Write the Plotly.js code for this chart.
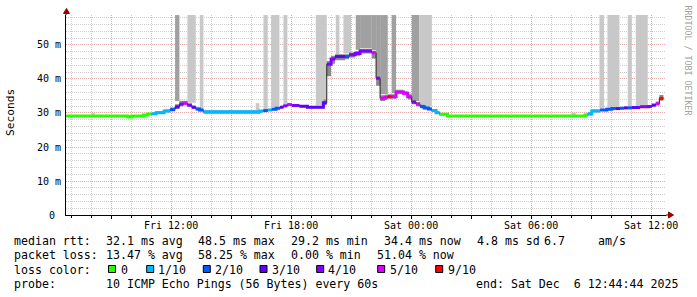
<!DOCTYPE html>
<html><head><meta charset="utf-8">
<script src="https://cdn.plot.ly/plotly-3.0.1.min.js"></script>
<style>html,body{margin:0;padding:0;background:#fff;}#chart{width:697px;height:297px;}</style>
</head><body><div id="chart"></div>
<script>
// ---- data ----
const stepTimes = ['2025-12-05 06:45','2025-12-05 09:50','2025-12-05 10:02','2025-12-05 10:37','2025-12-05 10:50','2025-12-05 11:02','2025-12-05 11:15','2025-12-05 11:39','2025-12-05 11:57','2025-12-05 12:12','2025-12-05 12:25','2025-12-05 12:37','2025-12-05 12:49','2025-12-05 13:02','2025-12-05 13:14','2025-12-05 13:25','2025-12-05 13:37',
'2025-12-05 16:27','2025-12-05 16:37','2025-12-05 16:50','2025-12-05 17:02','2025-12-05 17:15','2025-12-05 17:27','2025-12-05 17:37','2025-12-05 17:49','2025-12-05 18:02','2025-12-05 18:25','2025-12-05 18:49','2025-12-05 19:37','2025-12-05 19:47','2025-12-05 20:00','2025-12-05 20:12','2025-12-05 20:42','2025-12-05 20:54','2025-12-05 21:12','2025-12-05 21:27','2025-12-05 22:02','2025-12-05 22:15','2025-12-05 22:27','2025-12-05 22:42','2025-12-05 22:50','2025-12-05 23:02','2025-12-05 23:15','2025-12-05 23:37','2025-12-05 23:50',
'2025-12-06 00:02','2025-12-06 00:15','2025-12-06 00:27','2025-12-06 00:39','2025-12-06 00:52','2025-12-06 01:02','2025-12-06 01:15','2025-12-06 01:25','2025-12-06 01:49',
'2025-12-06 08:42','2025-12-06 08:50','2025-12-06 09:02','2025-12-06 09:27','2025-12-06 09:47','2025-12-06 10:02','2025-12-06 10:14','2025-12-06 10:27','2025-12-06 10:39','2025-12-06 10:50','2025-12-06 11:02','2025-12-06 11:27','2025-12-06 11:52','2025-12-06 12:02','2025-12-06 12:14','2025-12-06 12:25'];
const endTime = '2025-12-06 12:37';
const medianMs = [29.1,28.8,29.1,29.4,29.7,29.8,30.1,30.6,31.0,31.8,32.6,32.9,32.3,31.7,31.2,30.9,30.4,
30.6,30.7,30.9,31.1,31.4,31.7,32.1,32.5,32.2,32.0,31.7,33.0,44.3,45.9,46.6,46.6,47.1,47.5,48.2,47.7,40.2,34.3,34.6,34.8,34.8,36.2,35.8,34.8,
33.2,32.6,31.9,31.5,31.2,30.7,30.1,29.6,29.1,
29.4,29.7,30.6,30.9,31.1,31.3,31.3,31.4,31.5,31.5,31.6,31.8,31.9,32.3,32.7,34.3];
const lossTenths = [0,0,0,0,0,1,1,1,2,3,4,5,4,3,2,2,1,
1,2,1,2,2,3,4,5,4,3,3,3,4,4,3,2,4,4,4,5,4,5,5,9,5,5,5,5,
4,5,2,2,2,1,1,0,0,
0,1,1,2,2,2,3,2,3,2,3,4,4,3,5,9];
const smokeLow = [28.9,28.7,28.9,29.1,29.4,29.5,29.7,30.2,30.5,31.2,32.0,32.3,31.8,31.2,30.8,30.5,29.8,
30.3,30.4,30.6,30.8,31.1,31.4,31.8,32.1,31.9,31.7,31.4,32.4,40.8,44.5,45.5,45.8,46.3,46.8,47.5,46.0,38.0,33.5,34.0,34.2,34.2,35.6,35.2,34.0,
32.6,32.0,31.4,31.1,30.8,30.3,29.8,29.3,28.9,
29.1,29.3,30.2,30.6,30.8,31.0,31.0,31.1,31.2,31.2,31.3,31.5,31.6,31.9,32.3,33.6];
const smokeHigh = [29.3,29.3,29.4,29.7,30.0,30.1,30.5,31.0,31.6,32.6,33.6,33.6,32.8,32.1,31.6,31.3,30.7,
30.9,31.0,31.2,31.4,31.7,32.0,32.4,32.9,32.6,32.3,32.0,34.0,45.3,46.8,47.3,47.3,47.8,48.2,48.8,48.3,41.0,35.2,35.4,35.5,35.5,36.8,36.4,35.5,
33.9,33.2,32.4,31.9,31.6,31.1,30.5,29.9,29.3,
29.8,30.2,31.0,31.2,31.4,31.6,31.6,31.7,31.8,31.8,31.9,32.1,32.3,32.7,33.4,35.3];
// lost-ping smoke columns
const barStart = ['2025-12-05 08:02','2025-12-05 12:12','2025-12-05 12:49','2025-12-05 13:26','2025-12-05 16:14','2025-12-05 16:37','2025-12-05 17:00','2025-12-05 17:37','2025-12-05 19:14','2025-12-05 20:14','2025-12-05 20:37','2025-12-05 21:14','2025-12-05 21:27','2025-12-05 22:02','2025-12-05 22:15','2025-12-05 22:27','2025-12-05 23:02','2025-12-06 00:02','2025-12-06 00:25','2025-12-06 08:02','2025-12-06 09:25','2025-12-06 09:49','2025-12-06 10:50','2025-12-06 11:14'];
const barEnd = ['2025-12-05 08:11','2025-12-05 12:25','2025-12-05 13:14','2025-12-05 13:37','2025-12-05 16:25','2025-12-05 16:50','2025-12-05 17:25','2025-12-05 17:49','2025-12-05 19:47','2025-12-05 20:25','2025-12-05 21:00','2025-12-05 21:27','2025-12-05 22:02','2025-12-05 22:15','2025-12-05 22:27','2025-12-05 22:50','2025-12-05 23:15','2025-12-06 00:25','2025-12-06 01:02','2025-12-06 08:14','2025-12-06 09:39','2025-12-06 10:25','2025-12-06 11:02','2025-12-06 11:50'];
const barLow = [29.2,33.5,33.0,31.4,30.8,31.0,31.6,32.6,32.2,47.2,47.5,48.6,49.0,48.5,41.0,35.5,35.8,33.5,32.0,29.2,31.3,31.5,31.7,32.0];
const barHigh = [30.0,58.8,58.8,58.8,32.9,58.8,58.8,58.8,58.8,58.8,58.8,58.8,58.8,58.8,58.8,58.8,58.8,58.8,58.8,30.1,58.8,58.8,58.8,58.8];
const barShade = ['L','D','L','L','L','L','L','L','L','L','L','D','D','D','D','D','D','D','L','L','L','L','L','L'];

const lossLevels = [0,1,2,3,4,5,9];
const lossLabels = ['0','1/10','2/10','3/10','4/10','5/10','9/10'];
const lossColors = ['#26ff00','#00b8ff','#0059ff','#5e00ff','#7e00ff','#dd00ff','#ff0000'];

const xTickVals = ['2025-12-05 09:00','2025-12-05 12:00','2025-12-05 15:00','2025-12-05 18:00','2025-12-05 21:00','2025-12-06 00:00','2025-12-06 03:00','2025-12-06 06:00','2025-12-06 09:00','2025-12-06 12:00'];
const xTickText = ['','Fri 12:00','','Fri 18:00','','Sat 00:00','','Sat 06:00','','Sat 12:00'];
const yTickVals = [0,10,20,30,40,50];
const yTickText = ['0\u00a0','10 m','20 m','30 m','40 m','50 m'];

const statsRtt = [['median rtt:',16],['32.1 ms avg',107.7],['48.5 ms max',200],['29.2 ms min',293.3],['34.4 ms now',385.7],['4.8 ms sd',479],['6.7',545.7],['am/s',600]];
const statsLoss = [['packet loss:',16],['13.47 % avg',107.7],['58.25 % max',200],['0.00 % min',292.7],['51.04 % now',379]];
const probeRow = [['probe:',16],['10 ICMP Echo Pings (56 Bytes) every 60s',107.7],['end: Sat Dec\u00a0\u00a06 12:44:44 2025',478.3]];
const lossSquareX = [108.5,146.7,203.3,260,316.7,377.7,435.7];
const lossLabelX = [120.7,158,215,271.7,328,390,448];

// ---- layout helpers (pixel -> paper) ----
const L = 66, PW = 600, T = 15, PH = 200;
const fx = p => (p - L) / PW;
const fy = p => (T + PH - p) / PH;
const toMs = s => Date.parse(s.replace(' ', 'T') + ':00Z');
const colorOf = l => lossColors[lossLevels.indexOf(l)];

const traces = [];
traces.push({type:'bar', x: barStart, base: barLow, y: barHigh.map((h,i)=>h-barLow[i]),
  width: barStart.map((s,i)=>toMs(barEnd[i])-toMs(s)), offset: 0,
  marker:{color: barShade.map(s => s==='D' ? '#a0a0a0' : '#c8c8c8'), line:{width:0}}, hoverinfo:'skip'});
const sx = stepTimes.concat([endTime]);
const last = a => a[a.length-1];
traces.push({type:'scatter', mode:'lines', x: sx, y: smokeLow.concat([last(smokeLow)]), line:{width:0, shape:'hv', color:'rgba(0,0,0,0)'}, hoverinfo:'skip'});
traces.push({type:'scatter', mode:'lines', x: sx, y: smokeHigh.concat([last(smokeHigh)]), line:{width:0, shape:'hv', color:'rgba(0,0,0,0)'}, fill:'tonexty', fillcolor:'#8a8a8a', hoverinfo:'skip'});
traces.push({type:'scatter', mode:'lines', x: sx, y: medianMs.concat([last(medianMs)]), line:{width:1, shape:'hv', color:'#202020'}, hoverinfo:'skip'});
let i = 0;
while (i < stepTimes.length) {
  let j = i;
  while (j + 1 < stepTimes.length && lossTenths[j+1] === lossTenths[i]) j++;
  const xs = stepTimes.slice(i, j+1).concat([j+1 < stepTimes.length ? stepTimes[j+1] : endTime]);
  const ys = medianMs.slice(i, j+1).concat([medianMs[j]]);
  traces.push({type:'scatter', mode:'lines', x: xs, y: ys, line:{width:3, shape:'hv', color: colorOf(lossTenths[i])}, hoverinfo:'skip'});
  i = j + 1;
}

const mono = 'DejaVu Sans Mono';
const LS = 11.6;
const ann = [];
const txt = (t, x, y, size, shift) => ann.push({text:t, x:fx(x), y:fy(y), xref:'paper', yref:'paper', xanchor:'left', yanchor:'middle', xshift:shift, showarrow:false, borderpad:0, borderwidth:0, font:{family:mono, size:size, color:'#000'}});
statsRtt.forEach(r => txt(r[0], r[1], 241, LS, -2));
statsLoss.forEach(r => txt(r[0], r[1], 255.3, LS, -2));
txt('loss color:', 16, 269.5, LS, -2);
lossLabels.forEach((s,k) => txt(s, lossLabelX[k], 269.5, LS, 0));
probeRow.forEach(r => txt(r[0], r[1], 284.2, LS, -2));
ann.push({text:'Seconds', x:fx(10), y:fy(113), xref:'paper', yref:'paper', xanchor:'center', yanchor:'middle', textangle:-90, showarrow:false, borderpad:0, font:{family:mono, size:11.2, color:'#000'}});
ann.push({text:'RRDTOOL / TOBI OETIKER', x:fx(687.5), y:fy(60), xref:'paper', yref:'paper', xanchor:'center', yanchor:'middle', textangle:90, showarrow:false, borderpad:0, font:{family:mono, size:8.3, color:'#a0a0a0'}});

const shapes = [];
lossSquareX.forEach((x,k) => shapes.push({type:'rect', xref:'paper', yref:'paper', x0:fx(x), x1:fx(x+7), y0:fy(265.5), y1:fy(272.5), fillcolor: lossColors[k], line:{color:'#000', width:1}}));
shapes.push({type:'line', xref:'paper', yref:'paper', x0:1, x1:fx(670), y0:0, y1:0, line:{color:'#000', width:1}});
shapes.push({type:'line', xref:'paper', yref:'paper', x0:0, x1:0, y0:1, y1:fy(11), line:{color:'#000', width:1}});
const P = (x,y) => fx(x) + ',' + fy(y);
shapes.push({type:'path', xref:'paper', yref:'paper', path:'M'+P(668.5,212)+' L'+P(673.5,215)+' L'+P(668.5,218)+' Z', fillcolor:'#990000', line:{color:'#990000', width:1}});
shapes.push({type:'path', xref:'paper', yref:'paper', path:'M'+P(63.5,13.5)+' L'+P(66.5,8.5)+' L'+P(69.5,13.5)+' Z', fillcolor:'#990000', line:{color:'#990000', width:1}});

const majorGrid = '#e4a8a8', minorGrid = '#cfcfcf';
const layout = {
  width: 697, height: 297, margin:{l:L, r:697-L-PW, t:T, b:297-T-PH, pad:0},
  paper_bgcolor:'#ffffff', plot_bgcolor:'#ffffff', showlegend:false, barmode:'overlay',
  font:{family:mono, size:10, color:'#000'},
  xaxis:{type:'date', range:['2025-12-05 06:44:44','2025-12-06 12:44:44'], tickmode:'array', tickvals:xTickVals, ticktext:xTickText,
    showgrid:true, gridcolor:majorGrid, griddash:'1px,1px', gridwidth:1, ticks:'outside', ticklen:3, tickcolor:'#000', ticklabelstandoff:-2,
    showline:true, linecolor:'#000', linewidth:1, zeroline:false, tickfont:{family:mono, size:10, color:'#000'}, fixedrange:true,
    minor:{dtick:3600000, tick0:'2025-12-05 00:00', showgrid:true, gridcolor:minorGrid, griddash:'1px,1px', ticks:'outside', ticklen:2, tickcolor:'#000'}},
  yaxis:{range:[0,58.82], tickmode:'array', tickvals:yTickVals, ticktext:yTickText, showgrid:true, gridcolor:majorGrid, griddash:'1px,1px',
    ticks:'', ticklabelstandoff:2, showline:true, linecolor:'#000', linewidth:1, zeroline:false, fixedrange:true,
    tickfont:{family:mono, size:10, color:'#000'},
    minor:{dtick:2, tick0:0, showgrid:true, gridcolor:minorGrid, griddash:'1px,1px', ticks:''}},
  shapes: shapes, annotations: ann
};
Plotly.newPlot('chart', traces, layout, {staticPlot:true, displayModeBar:false});
</script></body></html>
